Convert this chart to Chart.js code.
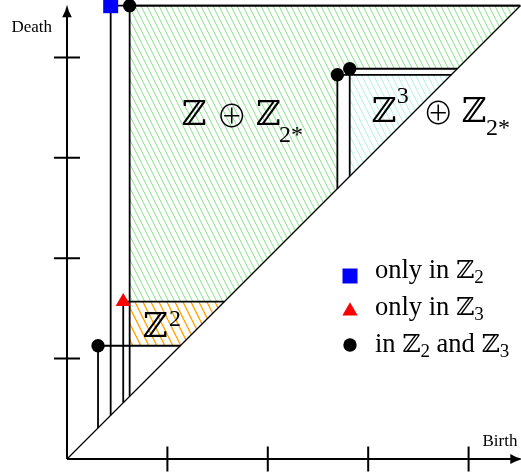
<!DOCTYPE html>
<html>
<head>
<meta charset="utf-8">
<script src="https://cdn.jsdelivr.net/npm/chart.js@4.4.1/dist/chart.umd.min.js"></script>
<style>
  html, body { margin: 0; padding: 0; background: #fff; overflow: hidden; }
</style>
</head>
<body>
<canvas id="pd" width="521" height="473"></canvas>
<script>
// persistence points, {x: birth, y: death}
const onlyZ2 = [{x: 0.435, y: 4.515}];
const onlyZ3 = [{x: 0.56, y: 1.567}];
const inBoth = [{x: 0.309, y: 1.128}, {x: 0.624, y: 4.515}, {x: 2.693, y: 3.827}, {x: 2.816, y: 3.887}];

const birthTicks = [1, 2, 3, 4];
const deathTicks = [1, 2, 3, 4];
const diagonal = [{x: 0, y: 0}, {x: 4.515, y: 4.515}];

// shaded regions, corners as [birth, death]
const regionZZ2 = [[0.624, 4.515], [4.515, 4.515], [3.887, 3.887], [2.693, 3.887], [2.693, 2.693], [1.567, 1.567], [0.624, 1.567]];
const regionZ2 = [[0.624, 1.567], [1.567, 1.567], [1.128, 1.128], [0.624, 1.128]];
const regionZ3Z2 = [[2.816, 3.827], [3.827, 3.827], [2.816, 2.816]];

const legendLabels = ['only in ℤ_2', 'only in ℤ_3', 'in ℤ_2 and ℤ_3'];

const textFont = "'Liberation Serif', 'DejaVu Serif', serif";
const bbFont = "'DejaVu Sans', 'DejaVu Serif', sans-serif";
const opFont = "'Noto Sans CJK JP', 'DejaVu Sans', sans-serif";

function hatch(color, gap, lw) {
  const c = document.createElement('canvas');
  c.width = gap; c.height = gap * 2;
  const g = c.getContext('2d');
  g.strokeStyle = color;
  g.lineWidth = lw;
  for (let k = -1; k <= 1; k++) {
    g.beginPath();
    g.moveTo(k * gap, 0);
    g.lineTo(k * gap + gap, gap * 2);
    g.stroke();
  }
  return g.createPattern(c, 'repeat');
}

const toXY = arr => arr.map(([x, y]) => ({x, y}));

function region(pts, pattern) {
  return {
    type: 'line', data: toXY(pts), fill: 'shape', backgroundColor: pattern,
    borderColor: 'rgba(0,0,0,0)', borderWidth: 0, pointRadius: 0, tension: 0, order: 10
  };
}

// each point gets a hook: up from the diagonal, then right back to it
const hooks = [...onlyZ2, ...onlyZ3, ...inBoth].map(p => ({
  type: 'line',
  data: [{x: p.x, y: p.x}, {x: p.x, y: p.y}, {x: p.y, y: p.y}],
  borderColor: '#000', borderWidth: 1.8, pointRadius: 0, fill: false, tension: 0, order: 4, clip: false
}));

const markerStyles = [
  {pointStyle: 'rect', radius: 10.6, color: 'rgb(0,0,255)'},
  {pointStyle: 'triangle', radius: 8.8, color: 'rgb(255,0,0)'},
  {pointStyle: 'circle', radius: 6.7, color: '#000'}
];

const pointSets = [onlyZ2, onlyZ3, inBoth].map((d, i) => ({
  type: 'scatter', data: d, showLine: false,
  pointStyle: markerStyles[i].pointStyle, pointRadius: markerStyles[i].radius,
  backgroundColor: markerStyles[i].color, pointBorderWidth: 0, borderColor: markerStyles[i].color,
  order: 1, clip: false
}));

const ZZ = '200 34px ' + bbFont;
const OPLUS = '300 31px ' + opFont;
const SCRIPT = '24px ' + textFont;

// math labels: pieces offset from an anchor given in birth/death coords
const mathLabels = [
  {at: [1.142, 3.327], parts: [
    {t: 'ℤ', dx: 0, dy: 0, f: ZZ},
    {t: '⊕', dx: 34.5, dy: 2, f: OPLUS},
    {t: 'ℤ', dx: 74.3, dy: 0, f: ZZ},
    {t: '2*', dx: 97.3, dy: 16.7, f: SCRIPT}]},
  {at: [3.035, 3.36], parts: [
    {t: 'ℤ', dx: 0, dy: 0, f: ZZ},
    {t: '3', dx: 25, dy: -18.4, f: SCRIPT},
    {t: '⊕', dx: 51, dy: 2, f: OPLUS},
    {t: 'ℤ', dx: 90, dy: 0, f: ZZ},
    {t: '2*', dx: 114.3, dy: 13.3, f: SCRIPT}]},
  {at: [0.757, 1.218], parts: [
    {t: 'ℤ', dx: 0, dy: 0, f: ZZ},
    {t: '2', dx: 26, dy: -11, f: SCRIPT}]}
];

function drawRich(ctx, x, y, str, size) {
  // "_c" makes c a subscript, ℤ uses the blackboard font
  const bits = str.split(/(_\S|ℤ)/).filter(s => s.length);
  for (const b of bits) {
    let dy = 0;
    let t = b;
    if (b[0] === '_') { t = b.slice(1); ctx.font = Math.round(size * 0.7) + 'px ' + textFont; dy = size * 0.2; }
    else if (b === 'ℤ') { ctx.font = '200 ' + Math.round(size * 0.95) + 'px ' + bbFont; }
    else { ctx.font = size + 'px ' + textFont; }
    ctx.fillText(t, x, y + dy);
    x += ctx.measureText(t).width;
  }
}

function arrowHead(ctx, tx, ty, dir) {
  // latex style arrow tip, dir: 'up' or 'right'
  ctx.beginPath();
  if (dir === 'up') {
    ctx.moveTo(tx, ty);
    ctx.quadraticCurveTo(tx + 1.5, ty + 7, tx + 4.8, ty + 12.5);
    ctx.lineTo(tx - 4.8, ty + 12.5);
    ctx.quadraticCurveTo(tx - 1.5, ty + 7, tx, ty);
  } else {
    ctx.moveTo(tx, ty);
    ctx.quadraticCurveTo(tx - 7, ty - 1.5, tx - 12.5, ty - 5);
    ctx.lineTo(tx - 12.5, ty + 5);
    ctx.quadraticCurveTo(tx - 7, ty + 1.5, tx, ty);
  }
  ctx.closePath();
  ctx.fill();
}

const decor = {
  id: 'decor',
  beforeDatasetsDraw(chart) {
    const {ctx, scales: {x, y}} = chart;
    const x0 = x.getPixelForValue(0), y0 = y.getPixelForValue(0);
    ctx.save();
    ctx.strokeStyle = '#000';
    ctx.fillStyle = '#000';
    ctx.lineWidth = 2;
    const yTip = y.getPixelForValue(4.525);
    const xTip = x.getPixelForValue(4.54);
    ctx.beginPath();
    ctx.moveTo(x0, y0); ctx.lineTo(x0, yTip + 6);
    ctx.moveTo(x0, y0); ctx.lineTo(xTip - 6, y0);
    ctx.stroke();
    arrowHead(ctx, x0, yTip, 'up');
    arrowHead(ctx, xTip, y0, 'right');
    ctx.beginPath();
    birthTicks.forEach(v => {
      const px = x.getPixelForValue(v);
      ctx.moveTo(px, y0 - 12.5); ctx.lineTo(px, y0 + 12.5);
    });
    deathTicks.forEach(v => {
      const py = y.getPixelForValue(v);
      ctx.moveTo(x0 - 13, py); ctx.lineTo(x0 + 13, py);
    });
    ctx.stroke();
    ctx.font = '17px ' + textFont;
    ctx.textBaseline = 'alphabetic';
    ctx.fillText('Death', 11.5, 31.5);
    ctx.fillText('Birth', 482.5, 446);
    ctx.restore();
  },
  afterDatasetsDraw(chart) {
    const {ctx, scales: {x, y}} = chart;
    ctx.save();
    ctx.fillStyle = '#000';
    ctx.textBaseline = 'alphabetic';
    mathLabels.forEach(lab => {
      const ax = x.getPixelForValue(lab.at[0]), ay = y.getPixelForValue(lab.at[1]);
      lab.parts.forEach(p => {
        ctx.font = p.f;
        ctx.fillText(p.t, ax + p.dx, ay + p.dy);
      });
    });
    // legend
    const rows = [{m: 276, b: 278}, {m: 311, b: 315}, {m: 345, b: 352}];
    legendLabels.forEach((lab, i) => {
      const st = markerStyles[i];
      ctx.fillStyle = st.color;
      Chart.helpers.drawPoint(ctx, {pointStyle: st.pointStyle, radius: st.radius, rotation: 0, borderWidth: 0}, 350, rows[i].m);
      ctx.fillStyle = '#000';
      drawRich(ctx, 375, rows[i].b, lab, 26.5);
    });
    ctx.restore();
  }
};

new Chart(document.getElementById('pd').getContext('2d'), {
  type: 'scatter',
  data: {
    datasets: [
      region(regionZZ2, hatch('rgb(130,225,130)', 6, 1)),
      region(regionZ2, hatch('rgb(255,165,0)', 8, 1.4)),
      region(regionZ3Z2, hatch('rgb(175,238,238)', 6, 1)),
      {type: 'line', data: diagonal, borderColor: '#000', borderWidth: 1.3, pointRadius: 0, fill: false, order: 5, clip: false},
      ...hooks,
      ...pointSets
    ]
  },
  options: {
    responsive: false,
    devicePixelRatio: 1,
    animation: false,
    layout: {autoPadding: false, padding: {left: 67, right: 0, top: 0, bottom: 14}},
    scales: {
      x: {type: 'linear', min: 0, max: 4.522, display: false},
      y: {type: 'linear', min: 0, max: 4.572, display: false}
    },
    plugins: {
      legend: {display: false},
      tooltip: {enabled: false}
    }
  },
  plugins: [decor]
});
</script>
</body>
</html>
